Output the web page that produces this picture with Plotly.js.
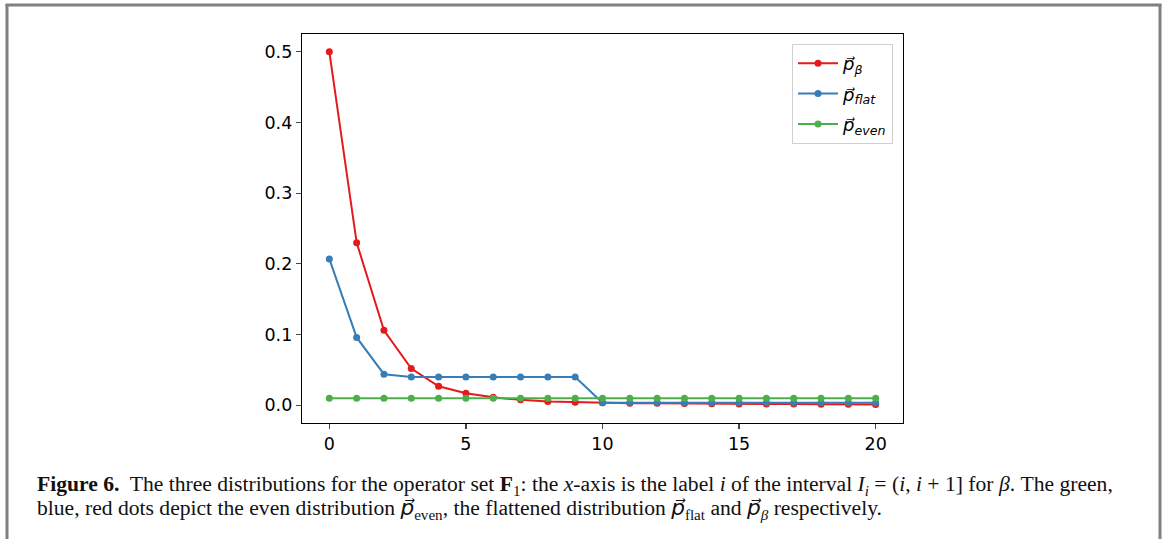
<!DOCTYPE html>
<html>
<head>
<meta charset="utf-8">
<script src="https://cdn.plot.ly/plotly-3.0.1.min.js"></script>
<style>html,body{margin:0;padding:0;background:#fff;}#chart{width:1165px;height:539px;}</style>
</head>
<body>
<div id="chart"></div>
<script>
// ---- data ----
const xIndex = [0,1,2,3,4,5,6,7,8,9,10,11,12,13,14,15,16,17,18,19,20];
const pBeta = [0.5,0.230,0.106,0.052,0.027,0.017,0.0113,0.0077,0.0054,0.0043,0.0036,0.0031,0.0028,0.0024,0.0022,0.002,0.0019,0.0017,0.0015,0.0014,0.0013];
const pFlat = [0.207,0.096,0.044,0.040,0.040,0.040,0.040,0.040,0.040,0.040,0.0037,0.0037,0.0037,0.0037,0.0037,0.0037,0.0037,0.0037,0.0037,0.0037,0.0037];
const pEven = [0.01,0.01,0.01,0.01,0.01,0.01,0.01,0.01,0.01,0.01,0.01,0.01,0.01,0.01,0.01,0.01,0.01,0.01,0.01,0.01,0.01];
const seriesNames = ['<i>p⃗</i><sub><i>β</i></sub>','<i>p⃗</i><sub><i>flat</i></sub>','<i>p⃗</i><sub><i>even</i></sub>'];
const xTicks = [0,5,10,15,20];
const yTicks = [0,0.1,0.2,0.3,0.4,0.5];
const yTickText = ['0.0','0.1','0.2','0.3','0.4','0.5'];
const PV = '<span style="font-family:\'DejaVu Sans\'"><i>p⃗</i></span>';
const captionLine1 = '<b>Figure 6.</b>  The three distributions for the operator set <b>F</b><sub>1</sub>: the <i>x</i>-axis is the label <i>i</i> of the interval <i>I<sub>i</sub></i> = (<i>i</i>, <i>i</i> + 1] for <i>β</i>. The green,';
const captionLine2 = 'blue, red dots depict the even distribution ' + PV + '<sub>even</sub>, the flattened distribution ' + PV + '<sub>flat</sub> and ' + PV + '<sub><i>β</i></sub> respectively.';

// ---- layout geometry ----
const W = 1165, H = 539;
const L = 302, R = 903, T = 34, B = 423;
const pw = R - L, ph = B - T;
const px = v => (v - L) / pw;
const py = v => (B - v) / ph;

const colors = ['#e41a1c','#377eb8','#4daf4a'];
const ys = [pBeta, pFlat, pEven];
const traces = ys.map((y, i) => ({
  x: xIndex, y: y, type: 'scatter', mode: 'lines+markers', name: seriesNames[i], legendgroup: 'g' + i,
  line: {color: colors[i], width: 2}, marker: {color: colors[i], size: 7}
}));

const layout = {
  width: W, height: H,
  margin: {l: L, r: W - R, t: T, b: H - B, pad: 0},
  paper_bgcolor: '#fff', plot_bgcolor: '#fff',
  font: {family: 'DejaVu Sans', size: 17.5, color: '#000'},
  xaxis: {range: [-1, 21], tickvals: xTicks, ticks: 'outside', ticklen: 5, tickwidth: 1.2,
    showline: true, mirror: true, linecolor: '#000', linewidth: 1.2, showgrid: false, zeroline: false,
    tickfont: {family: 'DejaVu Sans', size: 17.5}},
  yaxis: {range: [-0.025, 0.525], tickvals: yTicks, ticktext: yTickText, ticks: 'outside', ticklen: 5, tickwidth: 1.2,
    showline: true, mirror: true, linecolor: '#000', linewidth: 1.2, showgrid: false, zeroline: false,
    tickfont: {family: 'DejaVu Sans', size: 17.5}},
  showlegend: true,
  legend: {x: px(893), y: py(44), xanchor: 'right', yanchor: 'top', bgcolor: '#fff',
    bordercolor: '#d0d0d0', borderwidth: 1, font: {family: 'DejaVu Sans', size: 18},
    tracegroupgap: 4, itemwidth: 40},
  shapes: [
    {type: 'line', xref: 'paper', yref: 'paper', x0: px(7), x1: px(7), y0: py(4), y1: py(545), line: {color: '#808080', width: 3}},
    {type: 'line', xref: 'paper', yref: 'paper', x0: px(1160), x1: px(1160), y0: py(4), y1: py(545), line: {color: '#808080', width: 3}},
    {type: 'line', xref: 'paper', yref: 'paper', x0: px(5.5), x1: px(1161.5), y0: py(5), y1: py(5), line: {color: '#808080', width: 3}}
  ],
  annotations: [
    {xref: 'paper', yref: 'paper', x: px(35), y: py(485), xanchor: 'left', yanchor: 'middle', showarrow: false, align: 'left',
      text: captionLine1, font: {family: 'Liberation Serif', size: 21.6, color: '#111'}},
    {xref: 'paper', yref: 'paper', x: px(35), y: py(509), xanchor: 'left', yanchor: 'middle', showarrow: false, align: 'left',
      text: captionLine2, font: {family: 'Liberation Serif', size: 21.6, color: '#111'}}
  ]
};

Plotly.newPlot('chart', traces, layout, {displayModeBar: false, staticPlot: true});
</script>
</body>
</html>
